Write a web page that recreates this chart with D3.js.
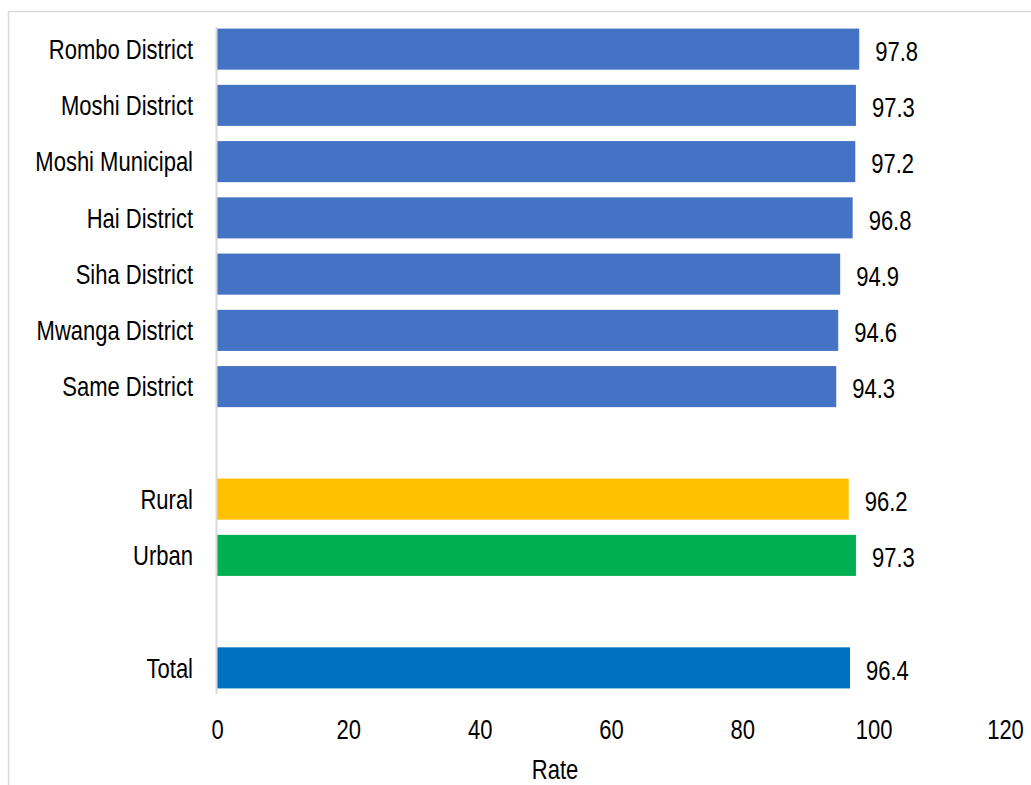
<!DOCTYPE html>
<html><head><meta charset="utf-8">
<script src="https://cdn.jsdelivr.net/npm/d3@7"></script>
<style>body{margin:0;background:#fff;}svg{display:block;font-family:"Liberation Sans",Arial,sans-serif;}</style>
</head><body>
<svg id="c" width="1031" height="785"></svg>
<script>
const categories = ["Rombo District","Moshi District","Moshi Municipal","Hai District","Siha District","Mwanga District","Same District","gap1","Rural","Urban","gap2","Total"];
const values = [97.8,97.3,97.2,96.8,94.9,94.6,94.3,null,96.2,97.3,null,96.4];
const groups = ["district","district","district","district","district","district","district",null,"rural","urban",null,"total"];
const groupColors = {district:"#4472C4", rural:"#FFC000", urban:"#00B050", total:"#0070C0"};
const xTicks = [0,20,40,60,80,100,120];
const axisTitle = "Rate";

const SY = 1.25; // vertical stretch of text seen in the reference
const svg = d3.select("#c");
svg.append("rect").attr("x",8.5).attr("y",11.5).attr("width",1100).attr("height",900)
  .attr("fill","none").attr("stroke","#d9d9d9").attr("stroke-width",1.5);

const x = d3.scaleLinear().domain([0,120]).range([217,1005]);
const y = d3.scaleBand().domain(categories).range([21,696]).paddingInner(0.27).paddingOuter(0.135);

const data = categories.map((c,i)=>({c, v:values[i], g:groups[i]})).filter(d=>d.v!==null);

svg.selectAll("rect.bar").data(data).enter().append("rect").attr("class","bar")
  .attr("x",x(0)).attr("y",d=>y(d.c)).attr("width",d=>x(d.v)-x(0)).attr("height",y.bandwidth())
  .attr("fill",d=>groupColors[d.g]);

function stretchedText(sel, tx, ty){
  return sel.attr("transform",(d,i)=>`translate(${tx(d,i)},${ty(d,i)}) scale(1,${SY})`);
}

stretchedText(svg.selectAll("text.cat").data(data).enter().append("text").attr("class","cat"),
  ()=>193, d=>y(d.c)+y.bandwidth()/2)
  .attr("dy","0.35em").attr("text-anchor","end").attr("font-size",22).attr("fill","#000")
  .text(d=>d.c);

stretchedText(svg.selectAll("text.val").data(data).enter().append("text").attr("class","val"),
  d=>x(d.v)+16, d=>y(d.c)+y.bandwidth()/2+2)
  .attr("dy","0.35em").attr("font-size",22).attr("fill","#000")
  .text(d=>d.v.toFixed(1));

svg.append("line").attr("x1",216.5).attr("x2",216.5).attr("y1",27).attr("y2",694)
  .attr("stroke","#d9d9d9").attr("stroke-width",2);

const xAxis = d3.axisBottom(x).tickValues(xTicks).tickSize(0).tickPadding(0);
const gx = svg.append("g").attr("transform","translate(0,729)").call(xAxis);
gx.select(".domain").remove();
gx.selectAll(".tick text").attr("y",0).attr("dy","0.35em").attr("font-size",22).attr("fill","#000")
  .attr("font-family","Liberation Sans, Arial, sans-serif").attr("transform",`scale(1,${SY})`);

svg.append("text").attr("transform",`translate(555,769) scale(1,${SY})`).attr("dy","0.35em").attr("text-anchor","middle")
  .attr("font-size",22).attr("fill","#000").text(axisTitle);
</script>
</body></html>
